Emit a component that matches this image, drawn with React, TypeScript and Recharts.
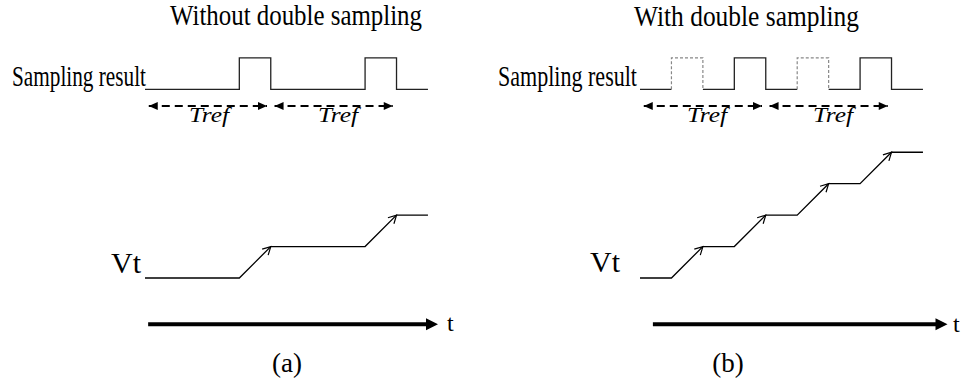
import { LineChart, Line, XAxis, YAxis } from "recharts";

// sampling result per reference slot: 0 = low, 1 = high, 2 = extra sample (dashed)
const bitsA = [0, 0, 0, 1, 0, 0, 0, 1, 0];
const bitsB = [0, 2, 0, 1, 0, 2, 0, 1, 0];

// Vt level at every slot boundary, t = 0..9
const vtA = [0, 0, 0, 0, 1, 1, 1, 1, 2, 2];
const vtB = [0, 0, 1, 1, 2, 2, 3, 3, 4, 4];

// Tref intervals, in slots
const trefSpans = [
  [0, 4],
  [4, 8],
];

const titles = ["Without double sampling", "With double sampling"];
const captions = ["(a)", "(b)"];

// layout grid: one slot / one Vt step = UNIT px
const UNIT = 31.44;
const ORIGIN_Y = 278;
const HEIGHT = 392;
const SR_LEVEL = 6;
const TREF_LEVEL = 5.47;
const AXIS_LEVEL = -1.47;
const SERIF = "Liberation Serif, Times New Roman, Times, serif";

type Pt = { t: number; y: number | null };

function buildWave(bits: number[]) {
  const solid: Pt[] = [];
  const dashed: Pt[] = [];
  const lo = SR_LEVEL;
  const hi = SR_LEVEL + 1;
  bits.forEach((b, i) => {
    if (b === 0) {
      solid.push({ t: i, y: lo }, { t: i + 1, y: lo });
    } else if (b === 1) {
      solid.push({ t: i, y: lo }, { t: i, y: hi }, { t: i + 1, y: hi }, { t: i + 1, y: lo });
    } else {
      solid.push({ t: i + 0.5, y: null });
      dashed.push({ t: i, y: lo }, { t: i, y: hi }, { t: i + 1, y: hi }, { t: i + 1, y: lo }, { t: i + 1.5, y: null });
    }
  });
  return { solid, dashed };
}

const trefDot = (p: any) => {
  const { cx, cy, index } = p;
  const dir = index === 0 ? -1 : 1;
  return (
    <path
      key={`tref-${index}`}
      d={`M${cx},${cy} L${cx - dir * 9},${cy - 4} L${cx - dir * 9},${cy + 4} Z`}
      fill="#000"
    />
  );
};

const stepDot = (p: any) => {
  const { cx, cy, index, payload } = p;
  if (!payload.up) return <g key={`step-${index}`} />;
  return (
    <path
      key={`step-${index}`}
      d={`M${cx - 2.6},${cy + 8.6} L${cx},${cy} L${cx - 8.6},${cy + 2.6}`}
      fill="none"
      stroke="#000"
      strokeWidth={1.2}
    />
  );
};

const axisDot = (p: any) => {
  const { cx, cy, index } = p;
  if (index === 0) return <g key="axis-0" />;
  return <path key="axis-1" d={`M${cx - 1},${cy - 6} L${cx + 11},${cy} L${cx - 1},${cy + 6} Z`} fill="#000" />;
};

interface PanelProps {
  left: number;
  width: number;
  originX: number;
  bits: number[];
  vt: number[];
  axisFrom: number;
  axisTo: number;
}

function Panel({ left, width, originX, bits, vt, axisFrom, axisTo }: PanelProps) {
  const { solid, dashed } = buildWave(bits);
  const steps = vt.map((v, i) => ({ t: i, y: v, up: i > 0 && v > vt[i - 1] }));
  const axis = [
    { t: axisFrom, y: AXIS_LEVEL },
    { t: axisTo, y: AXIS_LEVEL },
  ];
  return (
    <div style={{ position: "absolute", left, top: 0 }}>
      <LineChart width={width} height={HEIGHT} margin={{ top: 0, right: 0, bottom: 0, left: 0 }}>
        <XAxis
          type="number"
          dataKey="t"
          hide
          allowDataOverflow
          domain={[-originX / UNIT, (width - originX) / UNIT]}
        />
        <YAxis type="number" hide allowDataOverflow domain={[(ORIGIN_Y - HEIGHT) / UNIT, ORIGIN_Y / UNIT]} />
        <Line data={solid} dataKey="y" stroke="#222" strokeWidth={1.3} dot={false} activeDot={false} isAnimationActive={false} />
        {dashed.length > 0 && (
          <Line
            data={dashed}
            dataKey="y"
            stroke="#888"
            strokeWidth={1.2}
            strokeDasharray="3 2"
            dot={false}
            activeDot={false}
            isAnimationActive={false}
          />
        )}
        {trefSpans.map(([a, b], i) => (
          <Line
            key={`tref-${i}`}
            data={[
              { t: a + 0.12, y: TREF_LEVEL },
              { t: b - 0.12, y: TREF_LEVEL },
            ]}
            dataKey="y"
            stroke="#000"
            strokeWidth={2.2}
            strokeDasharray="8 5"
            dot={trefDot}
            activeDot={false}
            isAnimationActive={false}
          />
        ))}
        <Line data={steps} dataKey="y" stroke="#000" strokeWidth={1.3} dot={stepDot} activeDot={false} isAnimationActive={false} />
        <Line data={axis} dataKey="y" stroke="#000" strokeWidth={4} dot={axisDot} activeDot={false} isAnimationActive={false} />
      </LineChart>
    </div>
  );
}

const txt = { fontFamily: SERIF, fill: "#000" } as const;

export default function App() {
  return (
    <div style={{ position: "relative", width: 963, height: HEIGHT, background: "#fff" }}>
      <style>{`body{margin:0}`}</style>
      <Panel left={0} width={480} originX={145} bits={bitsA} vt={vtA} axisFrom={0.1} axisTo={8.97} />
      <Panel left={480} width={483} originX={160} bits={bitsB} vt={vtB} axisFrom={0.41} axisTo={9.43} />
      <svg width={963} height={HEIGHT} style={{ position: "absolute", left: 0, top: 0, pointerEvents: "none" }}>
        <text x={170} y={25} fontSize={29} textLength={252} lengthAdjust="spacingAndGlyphs" style={txt}>
          {titles[0]}
        </text>
        <text x={634} y={26} fontSize={29} textLength={225} lengthAdjust="spacingAndGlyphs" style={txt}>
          {titles[1]}
        </text>
        <text x={12} y={86} fontSize={29} textLength={134} lengthAdjust="spacingAndGlyphs" style={txt}>
          Sampling result
        </text>
        <text x={498} y={86} fontSize={29} textLength={139} lengthAdjust="spacingAndGlyphs" style={txt}>
          Sampling result
        </text>
        {[209, 338, 707, 833].map((x) => (
          <text
            key={x}
            x={x}
            y={122}
            fontSize={22}
            textAnchor="middle"
            textLength={40}
            lengthAdjust="spacingAndGlyphs"
            style={{ ...txt, fontStyle: "italic" }}
          >
            Tref
          </text>
        ))}
        <text x={111} y={273} fontSize={30} style={txt}>
          Vt
        </text>
        <text x={590} y={272} fontSize={30} style={txt}>
          Vt
        </text>
        <text x={447} y={331} fontSize={24} style={txt}>
          t
        </text>
        <text x={953} y={332} fontSize={24} style={txt}>
          t
        </text>
        <text x={287} y={372} fontSize={27} textAnchor="middle" style={txt}>
          {captions[0]}
        </text>
        <text x={728} y={372} fontSize={27} textAnchor="middle" style={txt}>
          {captions[1]}
        </text>
      </svg>
    </div>
  );
}
